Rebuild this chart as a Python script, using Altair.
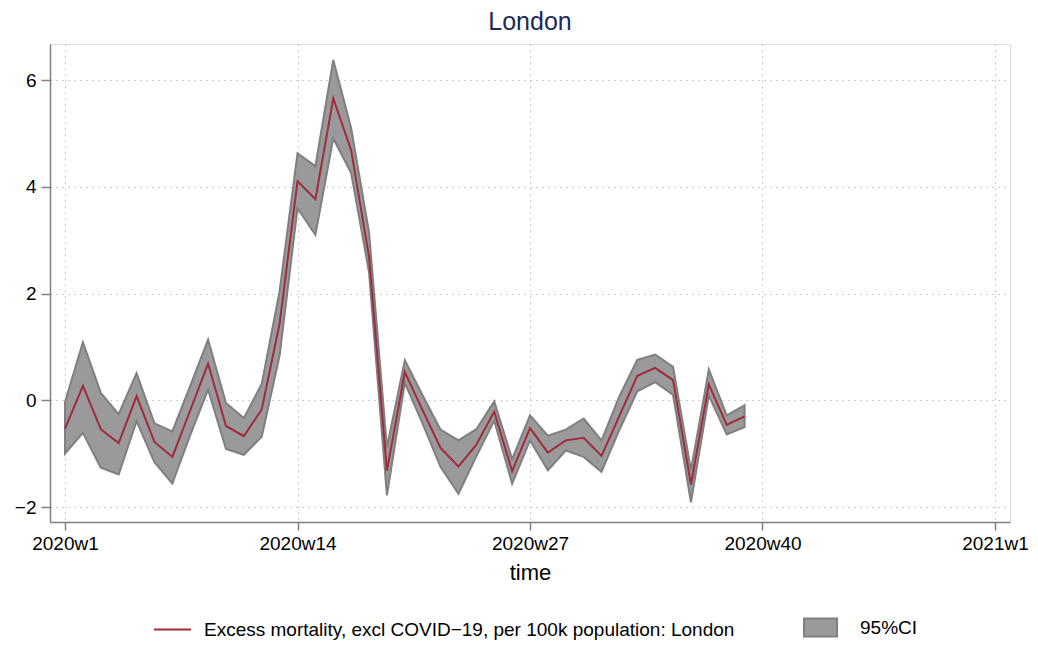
import altair as alt
import pandas as pd

# ---- data ----
weeks = list(range(1, 40))
excess = [-0.53, 0.27, -0.54, -0.80, 0.08, -0.78, -1.06, -0.19, 0.69, -0.48,
          -0.67, -0.17, 1.44, 4.11, 3.77, 5.66, 4.69, 2.69, -1.32, 0.53,
          -0.19, -0.89, -1.24, -0.83, -0.21, -1.33, -0.52, -0.98, -0.75, -0.70,
          -1.04, -0.29, 0.46, 0.61, 0.38, -1.58, 0.30, -0.46, -0.30]
ci_upper = [-0.03, 1.09, 0.14, -0.26, 0.51, -0.43, -0.58, 0.27, 1.14, -0.05,
            -0.33, 0.31, 2.05, 4.63, 4.39, 6.38, 5.10, 3.15, -0.88, 0.75,
            0.09, -0.55, -0.75, -0.54, -0.02, -1.10, -0.28, -0.66, -0.55, -0.34,
            -0.75, 0.08, 0.76, 0.86, 0.63, -1.31, 0.58, -0.28, -0.09]
ci_lower = [-1.00, -0.61, -1.26, -1.39, -0.39, -1.16, -1.56, -0.65, 0.20, -0.91,
            -1.02, -0.68, 0.84, 3.60, 3.10, 4.91, 4.26, 2.40, -1.78, 0.33,
            -0.44, -1.25, -1.75, -1.05, -0.38, -1.56, -0.75, -1.31, -0.94, -1.06,
            -1.34, -0.55, 0.17, 0.34, 0.10, -1.91, 0.09, -0.64, -0.50]

series_label = "Excess mortality, excl COVID\u221219, per 100k population: London"
band_label = "95%CI"
tick_weeks = [1, 14, 27, 40, 53]
tick_labels = ["2020w1", "2020w14", "2020w27", "2020w40", "2021w1"]
y_ticks = [-2, 0, 2, 4, 6]

df = pd.DataFrame({
    "week": weeks,
    "excess": excess,
    "lo": ci_lower,
    "hi": ci_upper,
    "s": [series_label] * len(weeks),
    "b": [band_label] * len(weeks),
})

label_expr = "''"
for w, lab in zip(reversed(tick_weeks), reversed(tick_labels)):
    label_expr = f"datum.value == {w} ? '{lab}' : ({label_expr})"

FONT = "Liberation Sans"
AXIS_COL = "#808080"
LEG_Y = 566

x_axis = alt.Axis(values=tick_weeks, labelExpr=label_expr, title="time",
                  grid=True, gridDash=[1.5, 4.5], gridColor="#bdbdbd", gridWidth=1,
                  domainColor=AXIS_COL, domainWidth=1.5, tickColor=AXIS_COL,
                  tickWidth=1.5, tickSize=8, labelFontSize=19, labelColor="#000000",
                  labelPadding=4, labelFont=FONT, titleFont=FONT, titleFontSize=22,
                  titleFontWeight="normal", titleColor="#000000", titlePadding=9,
                  labelFlush=False)
y_axis = alt.Axis(values=y_ticks, title=None, grid=True, gridDash=[1.5, 4.5],
                  gridColor="#bdbdbd", gridWidth=1, domainColor=AXIS_COL,
                  domainWidth=1.5, tickColor=AXIS_COL, tickWidth=1.5, tickSize=9,
                  labelFontSize=19, labelColor="#000000", labelPadding=5,
                  labelFont=FONT)

x_enc = alt.X("week:Q", scale=alt.Scale(domain=[0.16, 53.84], nice=False, zero=False),
              axis=x_axis)
y_scale = alt.Scale(domain=[-2.28, 6.68], nice=False, zero=False)

band = alt.Chart(df).mark_area(stroke="#7f7f7f", strokeWidth=2, opacity=1,
                               fillOpacity=1).encode(
    x=x_enc,
    y=alt.Y("lo:Q", scale=y_scale, axis=y_axis),
    y2="hi:Q",
    fill=alt.Fill("b:N", scale=alt.Scale(domain=[band_label], range=["#9a9a9a"]),
                  legend=alt.Legend(orient="none", legendX=753, legendY=LEG_Y,
                                    title=None, padding=0,
                                    symbolType="M-1,-0.55H1V0.55H-1Z",
                                    symbolSize=1089, symbolStrokeColor="#7f7f7f",
                                    symbolStrokeWidth=2, symbolFillColor="#9a9a9a",
                                    symbolOpacity=1,
                                    labelFontSize=19, labelFont=FONT,
                                    labelColor="#000000", labelOffset=22,
                                    labelLimit=1000)),
)

line = alt.Chart(df).mark_line(strokeWidth=2).encode(
    x=x_enc,
    y=alt.Y("excess:Q", scale=y_scale, axis=y_axis),
    stroke=alt.Stroke("s:N", scale=alt.Scale(domain=[series_label], range=["#a02b3b"]),
                      legend=alt.Legend(orient="none", legendX=103, legendY=LEG_Y,
                                        title=None, padding=0,
                                        symbolType="M-1,0H1", symbolSize=1369,
                                        symbolStrokeWidth=2,
                                        labelFontSize=19, labelFont=FONT,
                                        labelColor="#000000", labelOffset=12,
                                        labelLimit=1000)),
)

chart = alt.layer(band, line).properties(
    width=960,
    height=478,
    title=alt.TitleParams("London", fontSize=25, font=FONT, fontWeight="normal",
                          color="#1c2a56", anchor="middle", offset=9),
    autosize=alt.AutoSizeParams(type="none"),
    padding={"left": 42, "top": 36, "right": 20, "bottom": 118},
).configure_view(stroke=None).configure(background="white")

chart.save("out.html", embed_options={"renderer": "svg", "actions": False})
